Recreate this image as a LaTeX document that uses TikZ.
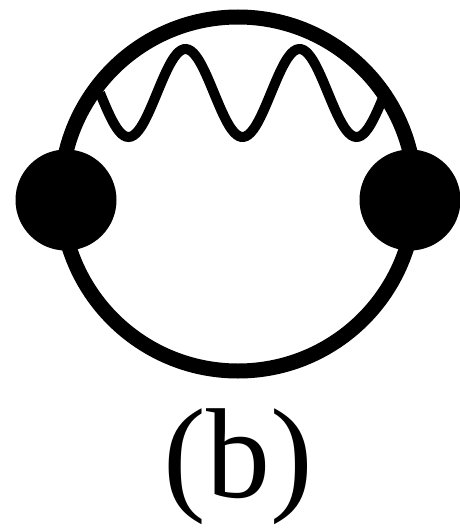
\documentclass[tikz,border=0pt]{standalone}
\usepackage{fontspec}
\setmainfont{Liberation Serif}
\usepackage{tikz}

\begin{document}
\begin{tikzpicture}[x=1pt, y=-1pt,
    loopline/.style={draw=black, line width=15pt},
    photon/.style={draw=black, line width=10pt},
    vertex/.style={circle, fill=black, inner sep=0pt, minimum size=101pt},
    caption/.style={anchor=base, font=\fontsize{128}{128}\selectfont}]
    \useasboundingbox (0,0) rectangle (460,530);

    \draw[loopline] (238,194) circle (177);
    \draw[photon] plot[domain=0:2.5, samples=120] ({100+\x*114}, {93+44*sin(\x*360)});

    \node [vertex] (left) at (66,200) {};
    \node [vertex] (right) at (410,200) {};

    \node [caption] (label) at (238,497) {(b)};
\end{tikzpicture}
\end{document}
